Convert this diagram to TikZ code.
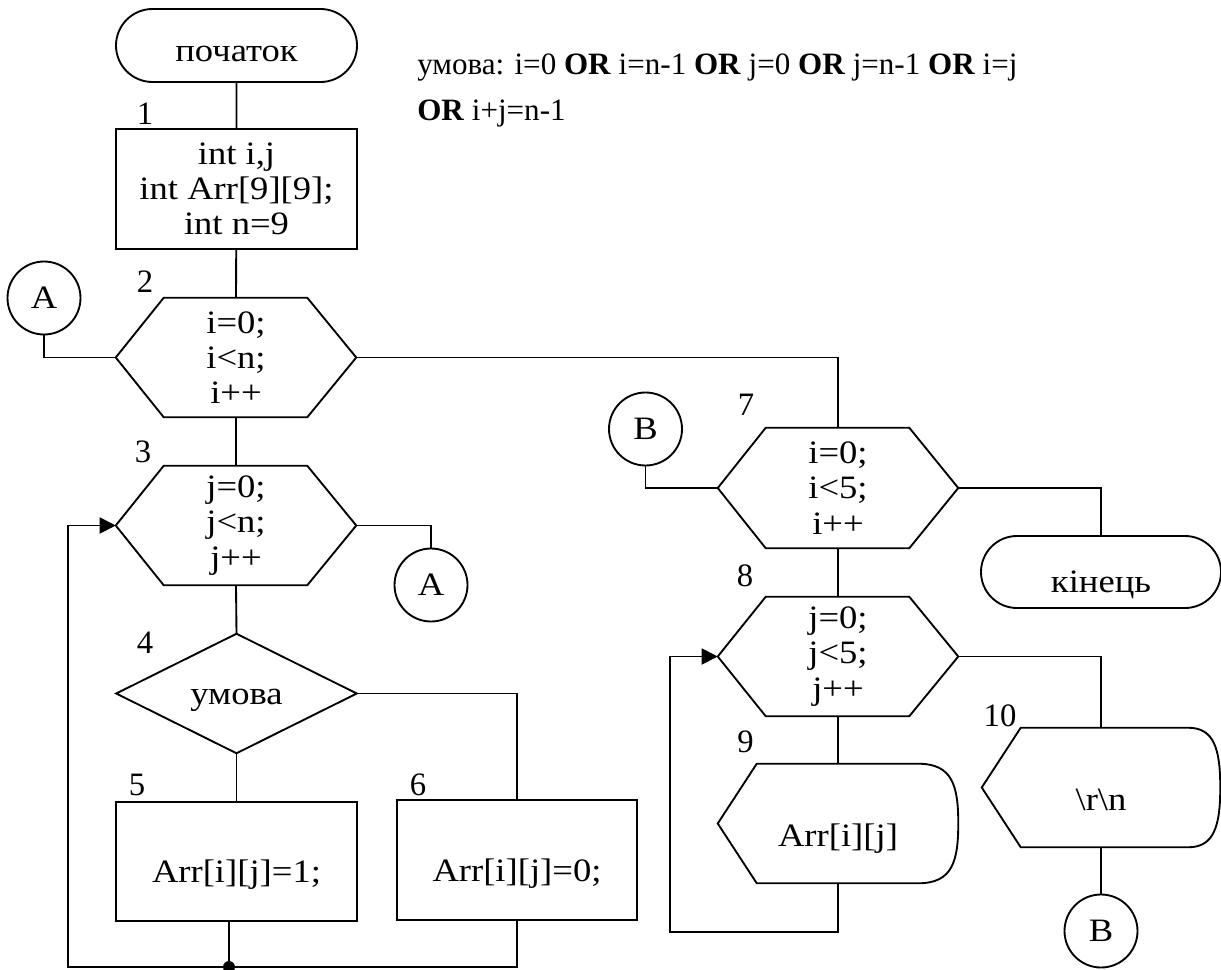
\documentclass[tikz,border=0pt]{standalone}
\usepackage{fontspec}
\setmainfont{Liberation Serif}
\newfontfamily\boxfont[FakeStretch=1.12]{Liberation Serif}
\usetikzlibrary{shapes.misc,arrows.meta,calc}

% outline of a loop (hexagon) block around an invisible node
\newcommand\hexout[1]{%
  \draw[ln] (#1.west) -- ($(#1.north west)+(48,0)$) -- ($(#1.north east)+(-49,0)$)
    -- (#1.east) -- ($(#1.south east)+(-49,0)$) -- ($(#1.south west)+(48,0)$) -- cycle;}
% outline of a display block around an invisible node
\newcommand\dispout[2]{%
  \draw[ln] (#1.west) -- ($(#1.north west)+(39,0)$) -- ($(#1.north east)+(-#2,0)$)
    .. controls ($(#1.north east)+(-6,0)$) and ($(#1.east)+(0,-38)$) .. (#1.east)
    .. controls ($(#1.east)+(0,38)$) and ($(#1.south east)+(-6,0)$) .. ($(#1.south east)+(-#2,0)$)
    -- ($(#1.south west)+(39,0)$) -- cycle;}
% outline of a decision block around an invisible node
\newcommand\decout[1]{%
  \draw[ln] (#1.north) -- (#1.east) -- (#1.south) -- (#1.west) -- cycle;}

\begin{document}
\begin{tikzpicture}[x=0.75pt,y=-0.75pt,
  every node/.style={inner sep=0pt},
  ln/.style={line width=1.4pt, line join=miter},
  txt/.style={font=\boxfont\fontsize{24.5pt}{26.5pt}\selectfont, align=center},
  low/.style={text height=#1, text depth=5pt},
  term/.style={txt, rounded rectangle, draw, ln, minimum width=180.75pt, minimum height=54.75pt},
  proc/.style={txt, rectangle, draw, ln, minimum width=180.75pt, minimum height=90pt},
  blank/.style={txt, rectangle, minimum width=180pt, minimum height=89.25pt},
  conn/.style={txt, circle, draw, ln, minimum size=54.75pt},
  num/.style={font=\fontsize{24.5pt}{26pt}\selectfont},
  note/.style={font=\fontsize{23.3pt}{28pt}\selectfont, anchor=base west},
  back/.style={ln, -{Triangle[length=12pt,width=12pt]}},
]
\useasboundingbox (0,0) rectangle (1221,970);

% ---- left column: filling the matrix
\node[term, low=29pt] (start) at (236.5,45.5) {початок};
\node[proc] (b1) at (236.5,189) {int i,j\\int Arr[9][9];\\int n=9};
\node[blank] (h2) at (236,357.5) {i=0;\\i<n;\\i++};
\node[conn] (A1) at (44,298) {A};
\node[blank] (h3) at (236,525.5) {j=0;\\j<n;\\j++};
\node[conn] (A2) at (431,585) {A};
\node[blank, low=21pt] (d4) at (236.5,693.5) {умова};
\node[proc, minimum height=89.25pt, low=37pt] (b5) at (236.5,861.5) {Arr[i][j]=1;};
\node[proc, minimum width=180pt, low=37pt] (b6) at (517,860) {Arr[i][j]=0;};
\node[circle, fill, minimum size=9pt] (dot) at (229,967) {};
\coordinate (loop1) at (68,967);

\hexout{h2}
\hexout{h3}
\decout{d4}

% ---- right column: printing the matrix
\node[blank, minimum height=90pt] (h7) at (838,488) {i=0;\\i<5;\\i++};
\node[conn] (B1) at (645.5,429) {B};
\node[term, minimum width=180pt, minimum height=54pt, low=35pt] (end) at (1101,572) {кінець};
\node[blank] (h8) at (838,656.5) {j=0;\\j<5;\\j++};
\node[blank, low=39pt] (d9) at (838,823.5) {Arr[i][j]};
\node[blank, minimum width=178.5pt, low=39pt] (d10) at (1101,787.5) {\textbackslash r\textbackslash n};
\node[conn] (B2) at (1101,931) {B};
\coordinate (loop2) at (670,932);

\hexout{h7}
\hexout{h8}
\dispout{d9}{40}
\dispout{d10}{32}

% ---- block numbers
\node[num] (l1) at (145,113.5) {1};
\node[num] (l2) at (145,282) {2};
\node[num] (l3) at (143,451.5) {3};
\node[num] (l4) at (145,643) {4};
\node[num] (l5) at (137,785) {5};
\node[num] (l6) at (418,785) {6};
\node[num] (l7) at (746,404.5) {7};
\node[num] (l8) at (745,576) {8};
\node[num] (l9) at (745.5,741.5) {9};
\node[num] (l10) at (1000,716) {10};

% ---- condition of block 4
\node[note] (n1) at (417,75) {умова: i=0 \textbf{OR} i=n-1 \textbf{OR} j=0 \textbf{OR} j=n-1 \textbf{OR} i=j};
\node[note] (n2) at (417,121) {\textbf{OR} i+j=n-1};

% ---- connectors
\draw[ln] (start) -- (b1);
\draw[ln] (b1) -- (h2.north);
\draw[ln] (A1.south) |- (h2.west);
\draw[ln] (h2.east) -| (h7.north);
\draw[ln] (h2.south) -- (h3.north);
\draw[ln] (h3.east) -| (A2.north);
\draw[ln] (h3.south) -- (d4.north);
\draw[ln] (d4.south) -- (b5.north);
\draw[ln] (d4.east) -| (b6.north);
\draw[ln] (dot.center |- b5.south) -- (dot.center);
\draw[ln] (b6.south) |- (dot.center);
\draw[back] (dot.center) -- (loop1) |- (h3.west);

\draw[ln] (B1.south) |- (h7.west);
\draw[ln] (h7.east) -| (end.north);
\draw[ln] (h7.south) -- (h8.north);
\draw[ln] (h8.south) -- (d9.north);
\draw[ln] (h8.east) -| (d10.north);
\draw[ln] (d10.south) -- (B2.north);
\draw[back] (d9.south) |- (loop2) |- (h8.west);
\end{tikzpicture}
\end{document}
